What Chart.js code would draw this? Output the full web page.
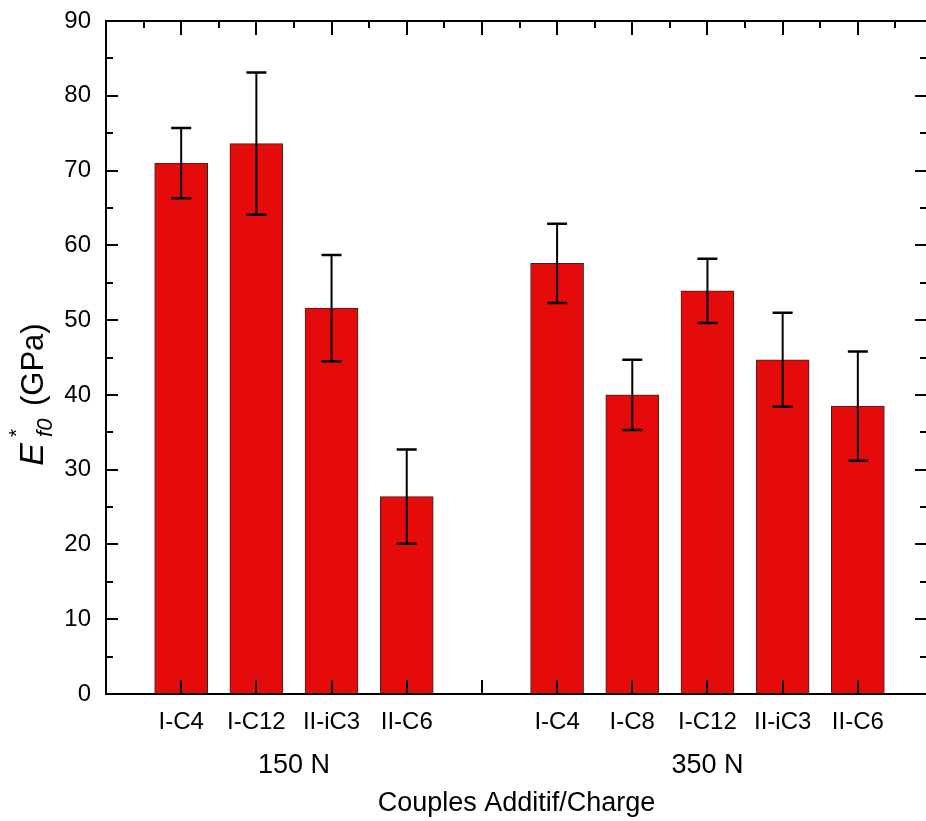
<!DOCTYPE html>
<html lang="fr">
<head>
<meta charset="UTF-8">
<title>E*f0 - Couples Additif/Charge</title>
<style>
  html, body { margin: 0; padding: 0; overflow: hidden; background: #fff; }
  #wrap { width: 932px; height: 821px; }
</style>
</head>
<body>
<div id="wrap"><canvas id="chart" width="932" height="821"></canvas></div>

<script src="https://cdn.jsdelivr.net/npm/chart.js"></script>
<script>
// values (GPa), with standard deviations
const labels150 = ['I-C4', 'I-C12', 'II-iC3', 'II-C6'];
const values150 = [71.0, 73.6, 51.6, 26.4];
const errors150 = [4.7, 9.5, 7.1, 6.3];

const labels350 = ['I-C4', 'I-C8', 'I-C12', 'II-iC3', 'II-C6'];
const values350 = [57.6, 40.0, 53.9, 44.7, 38.5];
const errors350 = [5.3, 4.7, 4.3, 6.3, 7.3];

const groupNames = ['150 N', '350 N'];

const groups = [
  { name: groupNames[0], labels: labels150, values: values150, errors: errors150 },
  { name: groupNames[1], labels: labels350, values: values350, errors: errors350 }
];

// one slot per bar, one empty slot between the two loads
const points = [];
const tickLabels = {};
let slot = 1;
groups.forEach(g => {
  g.slots = [];
  g.labels.forEach((lab, i) => {
    points.push({ x: slot, y: g.values[i], err: g.errors[i] });
    tickLabels[slot] = lab;
    g.slots.push(slot);
    slot++;
  });
  slot++;
});

Chart.defaults.font.family = '"Liberation Sans", Arial, sans-serif';
Chart.defaults.color = '#000';

const framePlugin = {
  id: 'frame',
  afterDatasetsDraw(chart) {
    const { ctx, chartArea: a, scales: { x, y } } = chart;
    ctx.save();
    ctx.strokeStyle = '#000';
    ctx.fillStyle = '#000';

    // error bars
    const meta = chart.getDatasetMeta(0);
    meta.data.forEach((bar, i) => {
      const p = points[i];
      const top = y.getPixelForValue(p.y + p.err);
      const bot = y.getPixelForValue(p.y - p.err);
      ctx.lineWidth = 2;
      ctx.beginPath();
      ctx.moveTo(bar.x, top);
      ctx.lineTo(bar.x, bot);
      ctx.stroke();
      ctx.lineWidth = 2.5;
      ctx.beginPath();
      ctx.moveTo(bar.x - 10, top); ctx.lineTo(bar.x + 10, top);
      ctx.moveTo(bar.x - 10, bot); ctx.lineTo(bar.x + 10, bot);
      ctx.stroke();
    });

    // inward tick marks
    ctx.lineWidth = 2;
    ctx.beginPath();
    for (let v = 5; v < 90; v += 5) {
      const py = Math.round(y.getPixelForValue(v));
      const len = v % 10 === 0 ? 12 : 7;
      ctx.moveTo(a.left, py); ctx.lineTo(a.left + len, py);
      ctx.moveTo(a.right, py); ctx.lineTo(a.right - len, py);
    }
    for (let v = 0.5; v < x.max; v += 0.5) {
      const px = Math.round(x.getPixelForValue(v));
      const major = Number.isInteger(v);
      ctx.moveTo(px, a.top); ctx.lineTo(px, a.top + (major ? 14 : 7));
      if (major) { ctx.moveTo(px, a.bottom); ctx.lineTo(px, a.bottom - 14); }
    }
    ctx.stroke();
    ctx.strokeRect(a.left, a.top, a.right - a.left, a.bottom - a.top);

    // load labels under each group
    ctx.font = '27px "Liberation Sans", Arial, sans-serif';
    ctx.textAlign = 'center';
    ctx.textBaseline = 'middle';
    groups.forEach(g => {
      const mid = (g.slots[0] + g.slots[g.slots.length - 1]) / 2;
      ctx.fillText(g.name, x.getPixelForValue(mid), a.bottom + 72);
    });

    // y title: E*_f0 (GPa)
    ctx.translate(43, (a.top + a.bottom) / 2 + 37);
    ctx.rotate(-Math.PI / 2);
    ctx.textAlign = 'left';
    ctx.textBaseline = 'alphabetic';
    const big = '31px "Liberation Sans", Arial, sans-serif';
    const bigI = 'italic 34px "Liberation Sans", Arial, sans-serif';
    const small = '21px "Liberation Sans", Arial, sans-serif';
    const smallI = 'italic 22px "Liberation Sans", Arial, sans-serif';
    ctx.font = bigI; const wE = ctx.measureText('E').width;
    ctx.font = small; const wS = ctx.measureText('*').width;
    ctx.font = smallI; const wF = ctx.measureText('f0').width;
    ctx.font = big; const wG = ctx.measureText(' (GPa)').width;
    const gap = 6;
    const total = wE + gap + Math.max(wS, wF) + 4 + wG;
    let cx = -total / 2;
    ctx.font = bigI; ctx.fillText('E', cx, 0); cx += wE + gap;
    ctx.font = small; ctx.fillText('*', cx, -20);
    ctx.font = smallI; ctx.fillText('f0', cx, 9);
    cx += Math.max(wS, wF) + 4;
    ctx.font = big; ctx.fillText(' (GPa)', cx, 0);
    ctx.restore();
  }
};

new Chart(document.getElementById('chart'), {
  type: 'bar',
  data: {
    datasets: [{
      data: points,
      backgroundColor: '#E60B0B',
      borderColor: '#2a2a2a',
      borderWidth: 1,
      barThickness: 53
    }]
  },
  options: {
    responsive: false,
    animation: false,
    layout: { padding: { top: 21, right: 5, left: 0, bottom: 0 } },
    plugins: { legend: { display: false }, tooltip: { enabled: false } },
    scales: {
      x: {
        type: 'linear',
        offset: false,
        min: 0,
        max: 10.92,
        grid: { display: false, drawTicks: false },
        border: { display: false },
        afterBuildTicks: scale => {
          scale.ticks = Object.keys(tickLabels).map(v => ({ value: +v }));
        },
        afterFit: scale => {
          scale.height = 127;
          scale.paddingLeft = 0;
          scale.paddingRight = 0;
        },
        ticks: {
          autoSkip: false,
          maxRotation: 0,
          padding: 14,
          font: { size: 24 },
          callback: v => tickLabels[v] ?? ''
        },
        title: {
          display: true,
          text: 'Couples Additif/Charge',
          font: { size: 27 },
          padding: { top: 0, bottom: 1 }
        }
      },
      y: {
        min: 0,
        max: 90,
        grid: { display: false, drawTicks: false },
        border: { display: false },
        afterFit: scale => {
          scale.width = 106;
          scale.paddingTop = 0;
          scale.paddingBottom = 0;
        },
        ticks: { stepSize: 10, padding: 15, font: { size: 24 } }
      }
    }
  },
  plugins: [framePlugin]
});
</script>
</body>
</html>
